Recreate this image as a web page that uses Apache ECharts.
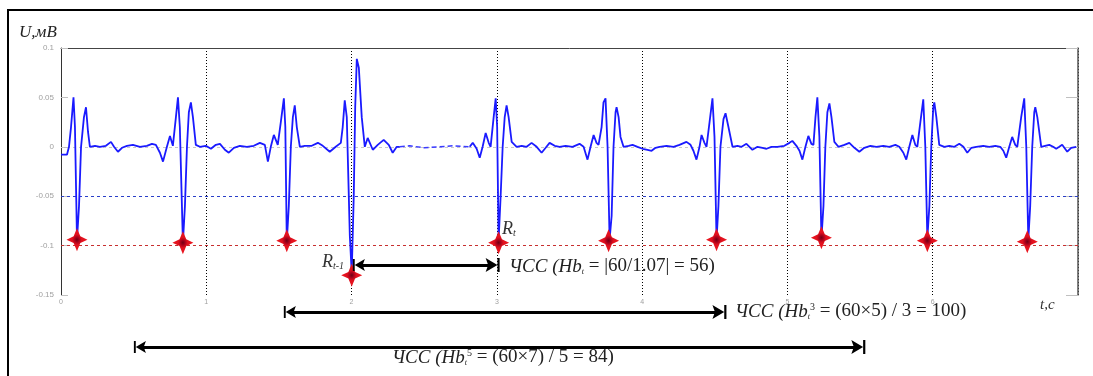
<!DOCTYPE html>
<html><head><meta charset="utf-8">
<script src="https://cdn.jsdelivr.net/npm/echarts@6/dist/echarts.min.js"></script>
<style>html,body{margin:0;padding:0;background:#fff}#c{width:1093px;height:376px}</style>
</head><body><div id="c"></div>
<script>
// ---- data (time in s, voltage in mV) ----
const xTickLabels = ['0','1','2','3','4','5','6'];
const yTickValues = [-0.15,-0.1,-0.05,0,0.05,0.1];
const yTickLabels = ['-0.15','-0.1','-0.05','0','0.05','0.1'];

const ecgA = [[0,-0.008],[0.041,-0.008],[0.055,0],[0.069,0.02],[0.086,0.05],[0.096,0.02],[0.110,-0.094],[0.124,-0.06],[0.138,0],[0.158,0.03],[0.172,0.04],[0.186,0.015],[0.199,0],[0.234,0.001],[0.268,0],[0.309,0.001],[0.344,0.005],[0.365,0],[0.392,-0.005],[0.420,-0.001],[0.454,0.001],[0.495,0.002],[0.543,0],[0.591,0.001],[0.626,0.003],[0.653,0.002],[0.681,-0.006],[0.702,-0.015],[0.729,0],[0.750,0.011],[0.770,0.001],[0.791,0.03],[0.805,0.05],[0.818,0.02],[0.839,-0.097],[0.853,-0.06],[0.867,0],[0.880,0.035],[0.894,0.045],[0.908,0.03],[0.928,0.002],[0.956,0],[0.997,0.001],[1.032,-0.002],[1.066,0.002],[1.094,0.003],[1.128,-0.003],[1.155,-0.006],[1.190,-0.001],[1.231,0.001],[1.279,0],[1.327,0.001],[1.369,0.004],[1.403,0.002],[1.424,-0.015],[1.444,0],[1.465,0.012],[1.492,0.002],[1.513,0.025],[1.534,0.049],[1.544,0.02],[1.554,-0.096],[1.568,-0.06],[1.582,0],[1.596,0.03],[1.609,0.042],[1.623,0.02],[1.644,0],[1.678,0.001],[1.726,0.001],[1.768,0.004],[1.802,0.001],[1.850,-0.005],[1.891,0],[1.926,0.004],[1.939,0.02],[1.953,0.047],[1.967,0.03],[1.988,-0.09],[2.001,-0.128],[2.015,-0.05],[2.025,0.04],[2.036,0.089],[2.050,0.08],[2.070,0.03],[2.091,0],[2.111,0.009],[2.146,-0.003],[2.180,0.002],[2.221,0.007],[2.256,0.002],[2.283,-0.006],[2.311,0],[2.332,0]];
const ecgGap = [[2.332,0],[2.40,0.001],[2.50,-0.001],[2.60,0],[2.70,0.001],[2.813,0]];
const ecgB = [[2.813,0],[2.834,0.004],[2.861,-0.002],[2.882,-0.011],[2.902,0],[2.923,0.014],[2.944,0.004],[2.957,0],[2.978,0.03],[2.992,0.049],[3.002,0.02],[3.012,-0.095],[3.026,-0.05],[3.040,0],[3.054,0.03],[3.067,0.042],[3.081,0.03],[3.102,0.005],[3.136,0],[3.171,0.001],[3.205,0],[3.239,0.004],[3.274,0],[3.308,-0.006],[3.336,-0.001],[3.363,0.004],[3.398,0.001],[3.432,0],[3.473,0.001],[3.521,0],[3.569,0.003],[3.597,0],[3.624,-0.013],[3.645,0],[3.666,0.012],[3.686,0.004],[3.700,0.002],[3.721,0.02],[3.734,0.045],[3.748,0.049],[3.762,0],[3.776,-0.094],[3.790,-0.07],[3.803,0],[3.817,0.035],[3.824,0.04],[3.838,0.03],[3.851,0.01],[3.872,0],[3.907,0.001],[3.934,0.002],[3.968,0],[4.003,-0.002],[4.037,-0.003],[4.065,-0.004],[4.092,-0.001],[4.120,0],[4.168,0.001],[4.216,0],[4.257,0.002],[4.305,0.005],[4.333,0.002],[4.353,-0.004],[4.374,-0.013],[4.395,0],[4.409,0.012],[4.429,0.004],[4.443,0],[4.464,0.025],[4.484,0.049],[4.498,0.01],[4.512,-0.094],[4.525,-0.06],[4.539,0],[4.560,0.028],[4.574,0.034],[4.594,0.02],[4.622,0],[4.656,0.001],[4.684,0],[4.718,0.003],[4.759,-0.003],[4.794,0],[4.828,-0.001],[4.856,-0.002],[4.890,0],[4.931,0],[4.979,0.001],[5.014,0.004],[5.034,0.006],[5.062,0.001],[5.083,-0.004],[5.103,-0.013],[5.124,0],[5.144,0.011],[5.165,0.003],[5.179,0.002],[5.193,0.03],[5.206,0.05],[5.220,0.01],[5.234,-0.093],[5.248,-0.06],[5.261,0],[5.275,0.035],[5.289,0.044],[5.303,0.03],[5.323,0.005],[5.351,0],[5.392,0.002],[5.426,0.004],[5.461,-0.001],[5.495,-0.005],[5.529,-0.001],[5.571,0.001],[5.612,0],[5.660,0.001],[5.701,0],[5.743,0.002],[5.770,0],[5.798,-0.006],[5.818,-0.013],[5.839,0],[5.860,0.012],[5.880,0.002],[5.894,0],[5.915,0.025],[5.935,0.048],[5.949,0],[5.963,-0.093],[5.977,-0.06],[5.990,0],[6.004,0.04],[6.011,0.045],[6.025,0.03],[6.045,0.002],[6.080,0],[6.114,0.001],[6.149,0],[6.183,0.003],[6.211,0],[6.238,-0.006],[6.266,-0.001],[6.300,0],[6.348,0.001],[6.389,0],[6.431,0.001],[6.465,0],[6.486,-0.004],[6.506,-0.011],[6.527,0],[6.547,0.01],[6.568,0.002],[6.582,0],[6.609,0.03],[6.630,0.049],[6.644,0],[6.658,-0.094],[6.671,-0.06],[6.685,0],[6.699,0.035],[6.706,0.04],[6.720,0.03],[6.747,0],[6.774,0.001],[6.802,0.002],[6.829,0],[6.850,-0.002],[6.871,0],[6.891,0.002],[6.926,-0.005],[6.953,-0.001],[6.988,0]];

const rPeakTimes  = [0.110, 0.839, 1.554, 2.001, 3.012, 3.769, 4.512, 5.234, 5.963, 6.651];
const rPeakValues = [-0.094, -0.097, -0.095, -0.130, -0.097, -0.095, -0.094, -0.092, -0.095, -0.096];

// reference levels
const refLevels = [0, -0.05, -0.1];
const refColors = ['#c8c8c8', '#2a3fc8', '#c83030'];

// HR measurement spans (arrow centres): start time, end time, level (mV)
const spanStart = [2.05, 1.575, 0.543];
const spanEnd   = [2.971, 4.532, 5.488];
const spanLevel = [-0.1196, -0.1672, -0.2026];

// ---- chart ----
const chart = echarts.init(document.getElementById('c'), null, {renderer:'canvas'});
const serif = '"Liberation Serif", "DejaVu Serif", serif';
const starPath = 'path://M0,-11 L3.2,-3.2 L10,0 L3.2,3.2 L0,11 L-3.2,3.2 L-10,0 L-3.2,-3.2 Z';
const arrowPath = 'path://M0,0 L12,0 L12,2.2 L0,2.2 Z M6,2.2 L12,14 L6,11.5 L0,14 Z';

const ecgStyle = {color:'#1a1aff', width:1.8};

const richBase = (size) => ({
  i:{fontSize:size, fontStyle:'italic', fontFamily:serif, fill:'#222'},
  s:{fontSize:8, fontStyle:'italic', fontFamily:serif, fill:'#222', verticalAlign:'bottom'},
  p:{fontSize:10, fontFamily:serif, fill:'#222', verticalAlign:'top'},
  n:{fontSize:size, fontFamily:serif, fill:'#222'}
});

const option = {
  animation: false,
  backgroundColor: '#fff',
  grid: {left:61, right:15, top:48, bottom:81, show:false},
  xAxis: [
    {type:'value', min:0, max:7, interval:1, position:'bottom',
     axisLine:{show:false}, axisTick:{show:false},
     axisLabel:{fontSize:7, color:'#a0a0a0', margin:4, formatter:v => { const i=Math.round(v); return xTickLabels[i] !== undefined ? xTickLabels[i] : ''; }},
     splitLine:{show:true, lineStyle:{color:'#000', type:[1,2], width:1}}},
    {type:'value', min:0, max:7, position:'top',
     axisLine:{show:true, onZero:false, lineStyle:{color:'#444', width:1}},
     axisTick:{show:false}, axisLabel:{show:false}, splitLine:{show:false}}
  ],
  yAxis: [
    {type:'value', min:-0.15, max:0.1, interval:0.05, position:'left',
     axisLine:{show:true, onZero:false, lineStyle:{color:'#333', width:1}},
     axisTick:{show:true, inside:true, length:7, lineStyle:{color:'#c0c0c0'}},
     axisLabel:{fontSize:8, color:'#a0a0a0', margin:7, formatter:v => { const i=yTickValues.findIndex(t=>Math.abs(t-v)<1e-9); return i>=0 ? yTickLabels[i] : ''; }},
     splitLine:{show:false}},
    {type:'value', min:-0.15, max:0.1, interval:0.05, position:'right',
     axisLine:{show:true, onZero:false, lineStyle:{color:'#555', width:1.5}},
     axisTick:{show:true, inside:true, length:12, lineStyle:{color:'#c0c0c0'}},
     axisLabel:{show:false}, splitLine:{show:false}}
  ],
  series: [
    {type:'line', data: ecgA, symbol:'none', lineStyle: ecgStyle, z:3,
     markLine:{silent:true, symbol:'none', label:{show:false}, z:1,
       data: refLevels.map((v,i)=>({yAxis:v, lineStyle:{color:refColors[i], type:[3,3], width:1}}))}},
    {type:'line', data: ecgGap, symbol:'none', lineStyle:{color:'#3a3aff', width:1.5, type:[5,3]}, z:3},
    {type:'line', data: ecgB, symbol:'none', lineStyle: ecgStyle, z:3},
    {type:'scatter', data: rPeakTimes.map((t,i)=>[t, rPeakValues[i]]), symbol: starPath, symbolSize:[21,23], z:5,
     itemStyle:{opacity:1, color:{type:'radial', x:0.5, y:0.5, r:0.5, colorStops:[{offset:0,color:'#700012'},{offset:0.18,color:'#a0001a'},{offset:0.45,color:'#e0101e'},{offset:1,color:'#ee1820'}]}}},
    {type:'lines', coordinateSystem:'cartesian2d', clip:false, z:6,
     symbol:[arrowPath, arrowPath], symbolSize:[12,14],
     lineStyle:{color:'#000', width:3, opacity:1},
     data: spanStart.map((s,i)=>({coords:[[s, spanLevel[i]],[spanEnd[i], spanLevel[i]]]}))}
  ],
  graphic: [
    {type:'rect', silent:true, z:-10, shape:{x:8, y:10, width:1200, height:500}, style:{fill:'none', stroke:'#000', lineWidth:2}},
    {type:'text', left:19, top:24, style:{text:'U,мВ', font:'italic 17px '+serif, fill:'#222'}},
    {type:'text', left:1040, top:298, style:{text:'t,с', font:'italic 15px '+serif, fill:'#333'}},
    {type:'text', left:502, top:220, style:{text:'{i|R}{s|t}', rich:{
      i:{fontSize:18, fontStyle:'italic', fontFamily:serif, fill:'#333'},
      s:{fontSize:10, fontStyle:'italic', fontFamily:serif, fill:'#333', verticalAlign:'bottom'}}}},
    {type:'text', left:322, top:253, style:{text:'{i|R}{s|t-1}', rich:{
      i:{fontSize:18, fontStyle:'italic', fontFamily:serif, fill:'#333'},
      s:{fontSize:10, fontStyle:'italic', fontFamily:serif, fill:'#333', verticalAlign:'bottom'}}}},
    {type:'text', left:509, top:257, style:{text:'{i|ЧСС (Hb}{s|t}{n| = |60/1.07| = 56)}', rich: richBase(19)}},
    {type:'text', left:735, top:302, style:{text:'{i|ЧСС (Hb}{s|t}{p|3}{n| = (60×5) / 3 = 100)}', rich: richBase(19)}},
    {type:'text', left:392, top:348, style:{text:'{i|ЧСС (Hb}{s|t}{p|5}{n| = (60×7) / 5 = 84)}', rich: richBase(19)}}
  ]
};
chart.setOption(option);
</script>
</body></html>
